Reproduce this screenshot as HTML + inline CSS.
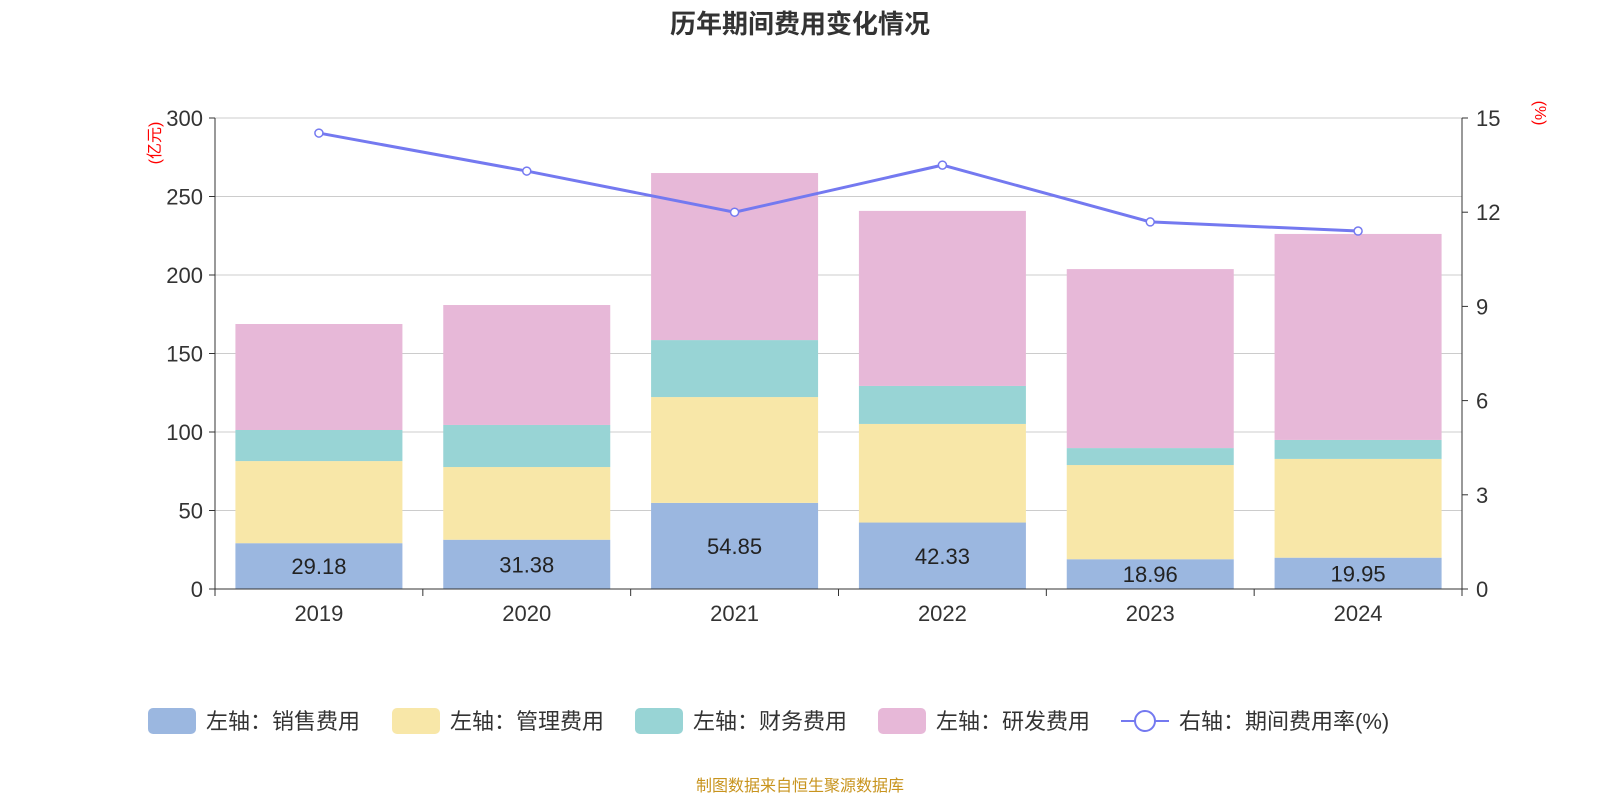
<!DOCTYPE html>
<html><head><meta charset="utf-8"><style>
body{margin:0;background:#fff;}
svg text{font-family:"Liberation Sans","Noto Sans CJK SC",sans-serif;}
</style></head><body>
<svg id="chart" width="1600" height="800" xmlns="http://www.w3.org/2000/svg">
<text x="800" y="33" text-anchor="middle" font-size="26" font-weight="bold" fill="#333">历年期间费用变化情况</text>
<text x="800" y="791" text-anchor="middle" font-size="16" fill="#c8941e">制图数据来自恒生聚源数据库</text>
<g id="grid"></g><g id="bars"></g><g id="axes"></g><g id="line"></g><g id="legend"></g>
</svg>
<script>
const categories=["2019","2020","2021","2022","2023","2024"];
const sales=[29.18,31.38,54.85,42.33,18.96,19.95];
const mgmt=[52.3,46.3,67.4,62.8,60.0,62.9];
const fin=[19.8,26.8,36.3,24.2,10.8,12.1];
const rd=[67.5,76.4,106.4,111.5,114.0,131.2];
const rate=[14.52,13.31,12.0,13.5,11.69,11.4];
const leftTicks=[0,50,100,150,200,250,300];
const rightTicks=[0,3,6,9,12,15];

const NS="http://www.w3.org/2000/svg";
const x0=215,x1=1462,yB=589,yT=118;
const bw=(x1-x0)/categories.length;
const yL=v=>yB-(v/300)*(yB-yT);
const yR=v=>yB-(v/15)*(yB-yT);
const xC=i=>x0+bw*(i+0.5);
function mk(tag,attrs,parent){const e=document.createElementNS(NS,tag);for(const k in attrs)e.setAttribute(k,attrs[k]);document.getElementById(parent).appendChild(e);return e;}

leftTicks.forEach(t=>{
  const y=yL(t);
  if(t>0){const g=mk('line',{x1:x0,x2:x1,y1:y,y2:y,stroke:'#ccc','stroke-width':1},'grid');
  
  }
  const tk=mk('line',{x1:x0-6,x2:x0,y1:y,y2:y,stroke:'#333'},'axes');
  
  
  const tx=mk('text',{x:x0-12,y:y+8,'text-anchor':'end','font-size':22,fill:'#333'},'axes');tx.textContent=t;
  
  
});
rightTicks.forEach(t=>{
  const y=yR(t);
  const tk=mk('line',{x1:x1,x2:x1+6,y1:y,y2:y,stroke:'#333'},'axes');
  
  
  const tx=mk('text',{x:x1+14,y:y+8,'font-size':22,fill:'#333'},'axes');tx.textContent=t;
  
  
});
let a=mk('line',{x1:x0,x2:x0,y1:yT,y2:yB,stroke:'#333'},'axes');


a=mk('line',{x1:x1,x2:x1,y1:yT,y2:yB,stroke:'#333'},'axes');


a=mk('line',{x1:x0,x2:x1,y1:yB,y2:yB,stroke:'#333'},'axes');


for(let i=0;i<=categories.length;i++){const t=mk('line',{x1:x0+bw*i,x2:x0+bw*i,y1:yB,y2:yB+7,stroke:'#333'},'axes');

}
let u=mk('text',{x:0,y:0,'font-size':16,fill:'red',transform:'translate(160,143) rotate(-90)','text-anchor':'middle'},'axes');u.textContent='(亿元)';


u=mk('text',{x:0,y:0,'font-size':16,fill:'red',transform:'translate(1535,113) rotate(90)','text-anchor':'middle'},'axes');u.textContent='(%)';



const series=[[sales,'#9bb7e0'],[mgmt,'#f8e7a8'],[fin,'#98d4d5'],[rd,'#e7b8d8']];
categories.forEach((c,i)=>{
  let base=0;
  series.forEach(([arr,col],s)=>{
    const top=base+arr[i];
    const r=mk('rect',{x:xC(i)-83.5,width:167,y:yL(top),height:yL(base)-yL(top),fill:col},'bars');
    
    
    base=top;
  });
  const lb=mk('text',{x:xC(i),y:(yL(sales[i])+yB)/2+8,'text-anchor':'middle','font-size':22,fill:'#222'},'bars');lb.textContent=sales[i].toFixed(2);
  
  
  const xl=mk('text',{x:xC(i),y:621,'text-anchor':'middle','font-size':22,fill:'#333'},'axes');xl.textContent=c;
  
  
});
const pl=mk('polyline',{points:rate.map((v,i)=>xC(i)+','+yR(v)).join(' '),fill:'none',stroke:'#7479f0','stroke-width':3},'line');


rate.forEach((v,i)=>{const c=mk('circle',{cx:xC(i),cy:yR(v),r:4,fill:'#fff',stroke:'#7479f0','stroke-width':1.5},'line');

});

const leg=[['左轴：销售费用','#9bb7e0',148],['左轴：管理费用','#f8e7a8',392],['左轴：财务费用','#98d4d5',635],['左轴：研发费用','#e7b8d8',878]];
leg.forEach(([t,col,x])=>{
  const r=mk('rect',{x:x,y:708,width:48,height:26,rx:5,fill:col},'legend');
  
  
  const tx=mk('text',{x:x+58,y:729,'font-size':22,fill:'#333'},'legend');tx.textContent=t;
  
  
});
let l=mk('line',{x1:1121,x2:1169,y1:721,y2:721,stroke:'#7479f0','stroke-width':2},'legend');


l=mk('circle',{cx:1145,cy:721,r:10,fill:'#fff',stroke:'#7479f0','stroke-width':2},'legend');


l=mk('text',{x:1179,y:729,'font-size':22,fill:'#333'},'legend');l.textContent='右轴：期间费用率(%)';


</script>
</body></html>
